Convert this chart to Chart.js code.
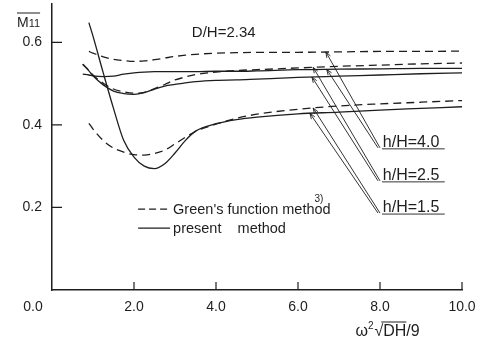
<!DOCTYPE html>
<html>
<head>
<meta charset="utf-8">
<script src="https://cdn.jsdelivr.net/npm/chart.js@4.4.1/dist/chart.umd.min.js"></script>
<style>
  html, body { margin: 0; padding: 0; background: #fff; }
  #wrap { width: 481px; height: 346px; }
</style>
</head>
<body>
<div id="wrap"><canvas id="mChart" width="481" height="346"></canvas></div>
<script>
// x = omega^2 sqrt(DH)/g, shared grid for all curves (null = curve not drawn there)
const omega = [0.75, 0.9, 1.0, 1.25, 1.5, 1.75, 2.0, 2.25, 2.5, 2.75, 3.0, 3.25, 3.5, 4.0, 4.5, 5.0, 6.0, 7.0, 8.0, 9.0, 10.0];

// Green's function method (dashed)
const green40 = [null, 0.578, 0.574, 0.565, 0.559, 0.556, 0.554, 0.555, 0.558, 0.562, 0.566, 0.569, 0.571, 0.574, 0.575, 0.576, 0.576, 0.577, 0.578, 0.578, 0.579];
const green25 = [0.547, 0.532, 0.521, 0.501, 0.487, 0.480, 0.477, 0.479, 0.488, 0.498, 0.509, 0.516, 0.522, 0.528, 0.532, 0.534, 0.538, 0.542, 0.545, 0.548, 0.550];
const green15 = [null, 0.404, 0.390, 0.362, 0.344, 0.334, 0.328, 0.327, 0.331, 0.339, 0.354, 0.370, 0.384, 0.402, 0.416, 0.426, 0.438, 0.446, 0.451, 0.455, 0.459];

// present method (solid)
const present40 = [0.523, 0.521, 0.519, 0.517, 0.518, 0.523, 0.526, 0.528, 0.529, 0.529, 0.529, 0.529, 0.529, 0.530, 0.530, 0.531, 0.534, 0.535, 0.536, 0.537, 0.537];
const present25 = [0.547, 0.531, 0.519, 0.497, 0.482, 0.476, 0.474, 0.478, 0.487, 0.494, 0.498, 0.502, 0.505, 0.508, 0.509, 0.511, 0.515, 0.518, 0.521, 0.524, 0.526];
const present15 = [null, 0.648, 0.615, 0.526, 0.440, 0.362, 0.322, 0.300, 0.294, 0.306, 0.332, 0.362, 0.385, 0.403, 0.413, 0.419, 0.427, 0.431, 0.436, 0.440, 0.444];

const xTicks = [0, 2, 4, 6, 8, 10];
const yTicks = [0.2, 0.4, 0.6];

const hLabels = ['h/H=4.0', 'h/H=2.5', 'h/H=1.5'];
const legendNames = ["Green's function method", 'present    method'];

// where the leader arrows touch the curves (x of dashed tip, x of solid tip)
const arrowAt = [[6.68, 6.70], [6.37, 6.34], [6.37, 6.29]];
const labelY = [0.342, 0.262, 0.184];

const ink = '#1e1e1e';
const FONT = '"Liberation Sans", Arial, sans-serif';

function pts(ys) {
  return omega.map((x, i) => ({ x: x, y: ys[i] })).filter(p => p.y !== null);
}

// straight lookup on the grid, only used to put arrow tips on the curves
function valueAt(ys, x) {
  for (let i = 1; i < omega.length; i++) {
    if (x <= omega[i]) {
      const t = (x - omega[i - 1]) / (omega[i] - omega[i - 1]);
      return ys[i - 1] + t * (ys[i] - ys[i - 1]);
    }
  }
  return ys[ys.length - 1];
}

function curve(ys, dashed) {
  return {
    data: pts(ys),
    borderColor: ink,
    borderWidth: 1.3,
    borderDash: dashed ? [8, 5] : [],
    pointRadius: 0,
    fill: false,
    cubicInterpolationMode: 'monotone'
  };
}

function arrowHead(ctx, fx, fy, tx, ty) {
  const a = Math.atan2(ty - fy, tx - fx);
  const len = 6;
  ctx.moveTo(tx, ty);
  ctx.lineTo(tx - len * Math.cos(a - 0.35), ty - len * Math.sin(a - 0.35));
  ctx.moveTo(tx, ty);
  ctx.lineTo(tx - len * Math.cos(a + 0.35), ty - len * Math.sin(a + 0.35));
}

const decor = {
  id: 'decor',
  afterDraw(chart) {
    const ctx = chart.ctx;
    const sx = chart.scales.x, sy = chart.scales.y;
    const area = chart.chartArea;
    ctx.save();
    ctx.strokeStyle = ink;
    ctx.fillStyle = ink;
    ctx.lineWidth = 1.2;
    ctx.setLineDash([]);

    // ticks point inward
    ctx.beginPath();
    xTicks.forEach(v => {
      if (v === 0) return;
      const px = sx.getPixelForValue(v);
      ctx.moveTo(px, area.bottom);
      ctx.lineTo(px, area.bottom - 8);
    });
    yTicks.forEach(v => {
      const py = sy.getPixelForValue(v);
      ctx.moveTo(area.left, py);
      ctx.lineTo(area.left + 10, py);
    });
    ctx.stroke();

    // 0.0 sits left of the corner
    ctx.font = '14px ' + FONT;
    ctx.textAlign = 'center';
    ctx.textBaseline = 'middle';
    ctx.fillText('0.0', sx.getPixelForValue(0) - 19, area.bottom + 17);

    // y label: M11 with bar
    ctx.textAlign = 'left';
    ctx.textBaseline = 'alphabetic';
    ctx.font = '14px ' + FONT;
    const mx = area.left - 35;
    ctx.fillText('M', mx, 27);
    const mw = ctx.measureText('M').width;
    ctx.font = '11px ' + FONT;
    ctx.fillText('11', mx + mw, 27);
    const w11 = ctx.measureText('11').width;
    ctx.lineWidth = 1;
    ctx.beginPath();
    ctx.moveTo(mx, 13);
    ctx.lineTo(mx + mw + w11, 13);
    ctx.stroke();

    // D/H note
    ctx.font = '15px ' + FONT;
    ctx.textBaseline = 'middle';
    ctx.fillText('D/H=2.34', sx.getPixelForValue(3.41), sy.getPixelForValue(0.623));

    // h/H labels with leaders
    const pairs = [[green40, present40], [green25, present25], [green15, present15]];
    ctx.lineWidth = 0.9;
    hLabels.forEach((txt, i) => {
      const uy = sy.getPixelForValue(labelY[i]);
      const ax = sx.getPixelForValue(8.0);
      ctx.beginPath();
      ctx.moveTo(ax + 2, uy);
      ctx.lineTo(sx.getPixelForValue(9.58), uy);
      pairs[i].forEach((ys, k) => {
        const tx = sx.getPixelForValue(arrowAt[i][k]);
        const ty = sy.getPixelForValue(valueAt(ys, arrowAt[i][k]));
        ctx.moveTo(ax - k * 2, uy - 1);
        ctx.lineTo(tx, ty);
        arrowHead(ctx, ax, uy, tx, ty);
      });
      ctx.stroke();
      ctx.font = '16px ' + FONT;
      ctx.textBaseline = 'alphabetic';
      ctx.fillText(txt, sx.getPixelForValue(8.07), uy - 2);
    });

    // legend
    const lx0 = sx.getPixelForValue(2.1), lx1 = sx.getPixelForValue(2.88);
    const rows = [sy.getPixelForValue(0.196), sy.getPixelForValue(0.150)];
    ctx.lineWidth = 1.2;
    rows.forEach((ry, i) => {
      ctx.setLineDash(i === 0 ? [7, 4] : []);
      ctx.beginPath();
      ctx.moveTo(lx0, ry);
      ctx.lineTo(lx1, ry);
      ctx.stroke();
    });
    ctx.setLineDash([]);
    ctx.font = '14.5px ' + FONT;
    ctx.textBaseline = 'middle';
    rows.forEach((ry, i) => ctx.fillText(legendNames[i], lx1 + 3, ry + 1));
    const supX = lx1 + 3 + ctx.measureText("Green's function meth").width;
    ctx.font = '10px ' + FONT;
    ctx.fillText('3)', supX, rows[0] - 10);

    // x title: omega^2 sqrt(DH)/g
    let tx = sx.getPixelForValue(7.4);
    const by = area.bottom + 46;
    ctx.textBaseline = 'alphabetic';
    ctx.font = '16px ' + FONT;
    ctx.fillText('\u03c9', tx, by);
    tx += ctx.measureText('\u03c9').width;
    ctx.font = '10px ' + FONT;
    ctx.fillText('2', tx, by - 7);
    tx += ctx.measureText('2').width + 1;
    ctx.font = '16px ' + FONT;
    ctx.fillText('\u221a', tx, by);
    tx += ctx.measureText('\u221a').width;
    const dhw = ctx.measureText('DH').width;
    ctx.fillText('DH', tx, by);
    ctx.lineWidth = 1;
    ctx.beginPath();
    ctx.moveTo(tx - 2, by - 14);
    ctx.lineTo(tx + dhw, by - 14);
    ctx.stroke();
    tx += dhw;
    ctx.fillText('/9', tx, by);

    ctx.restore();
  }
};

new Chart(document.getElementById('mChart').getContext('2d'), {
  type: 'line',
  data: {
    datasets: [
      curve(green40, true),
      curve(green25, true),
      curve(green15, true),
      curve(present40, false),
      curve(present25, false),
      curve(present15, false)
    ]
  },
  options: {
    responsive: false,
    devicePixelRatio: 1,
    animation: false,
    layout: { padding: { left: 0, top: 4, right: 19, bottom: 0 } },
    plugins: { legend: { display: false }, tooltip: { enabled: false } },
    scales: {
      x: {
        type: 'linear',
        min: 0,
        max: 10,
        grid: { display: false, drawTicks: false },
        border: { display: true, color: ink, width: 1.5 },
        afterBuildTicks: s => { s.ticks = xTicks.map(v => ({ value: v })); },
        afterFit: s => { s.height = 56; s.paddingLeft = 0; s.paddingRight = 0; },
        ticks: {
          padding: 9,
          color: ink,
          font: { family: FONT, size: 14 },
          maxRotation: 0,
          callback: v => (v === 0 ? '' : v.toFixed(1))
        }
      },
      y: {
        min: 0,
        max: 0.693,
        grid: { display: false, drawTicks: false },
        border: { display: true, color: ink, width: 1.5 },
        afterBuildTicks: s => { s.ticks = yTicks.map(v => ({ value: v })); },
        afterFit: s => { s.width = 52; s.paddingTop = 0; s.paddingBottom = 0; },
        ticks: {
          padding: 10,
          color: ink,
          font: { family: FONT, size: 14 },
          callback: v => v.toFixed(1)
        }
      }
    }
  },
  plugins: [decor]
});
</script>
</body>
</html>
